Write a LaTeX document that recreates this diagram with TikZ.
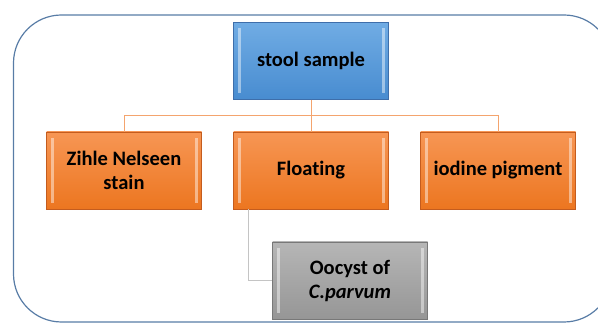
\documentclass[tikz,border=0pt]{standalone}
\usepackage{fontspec}
\setmainfont[Ligatures=NoCommon]{Carlito}
\usetikzlibrary{positioning}
\definecolor{frameblue}{RGB}{88,124,166}
\definecolor{stooltop}{RGB}{112,172,228}
\definecolor{stoolbot}{RGB}{72,140,208}
\definecolor{stooledge}{RGB}{62,110,170}
\definecolor{testtop}{RGB}{247,150,84}
\definecolor{testbot}{RGB}{236,118,32}
\definecolor{testedge}{RGB}{196,92,30}
\definecolor{cysttop}{RGB}{182,182,182}
\definecolor{cystbot}{RGB}{150,150,150}
\definecolor{cystedge}{RGB}{120,120,120}
\definecolor{linkorange}{RGB}{244,164,110}
\definecolor{linkgray}{RGB}{196,196,196}

\tikzset{
  box/.style={minimum width=155pt, minimum height=77pt, inner sep=2pt,
    align=center, font=\fontsize{20.5}{24}\selectfont\bfseries,
    path picture={
      \fill[white, opacity=0.45] ([xshift=4pt,yshift=-6pt]path picture bounding box.north west)
        rectangle ([xshift=7pt,yshift=6pt]path picture bounding box.south west);
      \fill[white, opacity=0.45] ([xshift=-4pt,yshift=-6pt]path picture bounding box.north east)
        rectangle ([xshift=-7pt,yshift=6pt]path picture bounding box.south east);
    }},
  stoolbox/.style={box, draw=stooledge, top color=stooltop, bottom color=stoolbot},
  testbox/.style={box, draw=testedge, top color=testtop, bottom color=testbot},
  cystbox/.style={box, draw=cystedge, top color=cysttop, bottom color=cystbot}
}

\begin{document}
\begin{tikzpicture}[x=1pt, y=-1pt]

	\useasboundingbox (0,0) rectangle (598,323);

	% Outer frame
	\begin{scope}
		\clip (0,0) rectangle (598,323);
		\draw[frameblue, line width=1.2pt, rounded corners=48pt] (13.5,15) rectangle (612,322);
	\end{scope}

	% Boxes
	\node[stoolbox] (stool) at (311,61) {stool sample};
	\node[testbox] (zihle) at (124,170.5) {Zihle Nelseen\\stain};
	\node[testbox] (floating) at (311,170.5) {Floating};
	\node[testbox] (iodine) at (498,170.5) {iodine pigment};
	\node[cystbox] (oocyst) at (350,280.5) {Oocyst of\\\textit{C.parvum}};

	% Connectors
	\coordinate (bus) at (311,115.7);
	\draw[linkorange, line width=0.9pt] (zihle.north) |- (bus) -| (iodine.north);
	\draw[linkorange, line width=0.9pt] (stool.south) -- (floating.north);
	\draw[linkgray, line width=1.2pt] ([xshift=15pt]floating.south west) |- (oocyst.west);

\end{tikzpicture}
\end{document}
